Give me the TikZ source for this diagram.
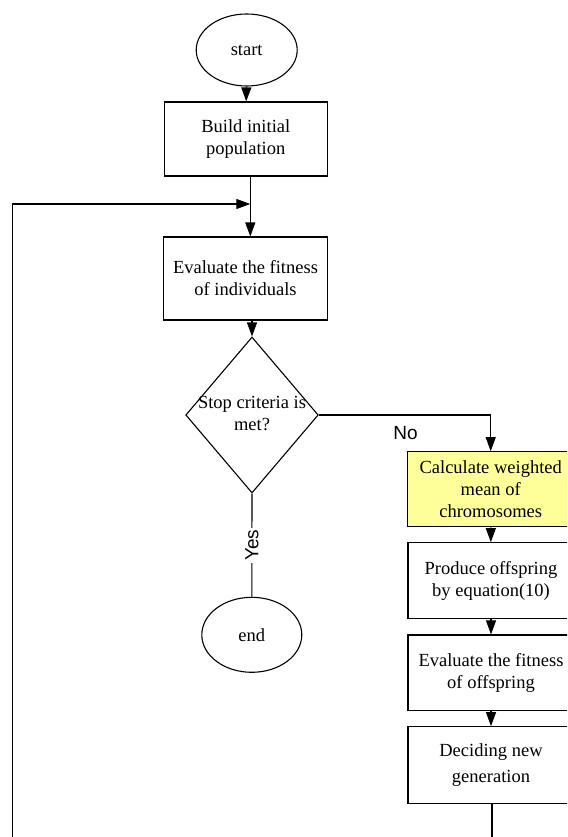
\documentclass[tikz,border=0pt]{standalone}
\usepackage{fontspec}
\setmainfont{Liberation Serif}
\newfontfamily\answerfont{Liberation Sans}
\usetikzlibrary{shapes.geometric,arrows.meta}
\definecolor{paleyellow}{RGB}{255,255,153}
\begin{document}
\begin{tikzpicture}[x=1pt,y=-1pt,line width=1.1pt]
	\tikzstyle{every node}=[font=\fontsize{18.5}{22}\selectfont,align=center]
	\tikzstyle{term}=[draw,ellipse,inner sep=0pt]
	\tikzstyle{proc}=[draw,rectangle,inner sep=0pt,minimum width=166pt]
	\tikzstyle{arr}=[-{Triangle[width=10pt,length=14pt]}]
	\tikzstyle{answer}=[font=\answerfont\fontsize{19}{22}\selectfont]
	\useasboundingbox (0,0) rectangle (567,837);
	\clip (0,0) rectangle (567,837);
	% main column
	\node[term,minimum width=101pt,minimum height=72pt] (start) at (246.7,50) {start};
	\node[proc,minimum width=162.7pt,minimum height=74pt] (build) at (245.8,139) {Build initial\\population};
	\node[proc,minimum width=163.4pt,minimum height=83pt] (evalpop) at (245.5,278.5) {Evaluate the fitness\\of individuals};
	\node[draw,diamond,inner sep=0pt,minimum width=132.6pt,minimum height=156pt] (stop) at (252,415) {};
	\node (stoptext) at (252,414) {Stop criteria is\\met?};
	\node[term,minimum width=100pt,minimum height=75pt] (stopend) at (251.8,634.8) {end};
	% right column
	\node[proc,fill=paleyellow,minimum height=75pt] (weighted) at (490.7,489.2) {Calculate weighted\\mean of\\chromosomes};
	\node[proc,minimum height=75.6pt] (produce) at (491,580.5) {Produce offspring\\by equation(10)};
	\node[proc,minimum height=75.7pt] (evaloff) at (491,672.8) {Evaluate the fitness\\of offspring};
	\node[proc,minimum height=76.6pt] (decide) at (491,765) {Deciding new\\[4pt]generation};
	\coordinate (merge) at (250.3,204);
	\coordinate (loopend) at (12.7,850);
	\coordinate (decideend) at (492,850);
	% connectors
	\draw[arr] (start) -- (build);
	\draw (build.south -| merge) -- (merge);
	\draw[arr] (merge) -- (evalpop.north -| merge);
	\draw[arr] (loopend) |- (merge);
	\draw[arr] (evalpop.south -| stop.north) -- (stop.north);
	\draw[arr] (stop.east) -| (weighted.north);
	\node[answer] (no) at (405.5,433) {No};
	\draw (stop.south) -- node[answer,rotate=90,fill=white,inner sep=2pt] (yes) {Yes} (stopend.north);
	\draw[arr] (weighted) -- (produce);
	\draw[arr] (produce) -- (evaloff);
	\draw[arr] (evaloff) -- (decide);
	\draw (decide.south -| decideend) -- (decideend);
\end{tikzpicture}
\end{document}
